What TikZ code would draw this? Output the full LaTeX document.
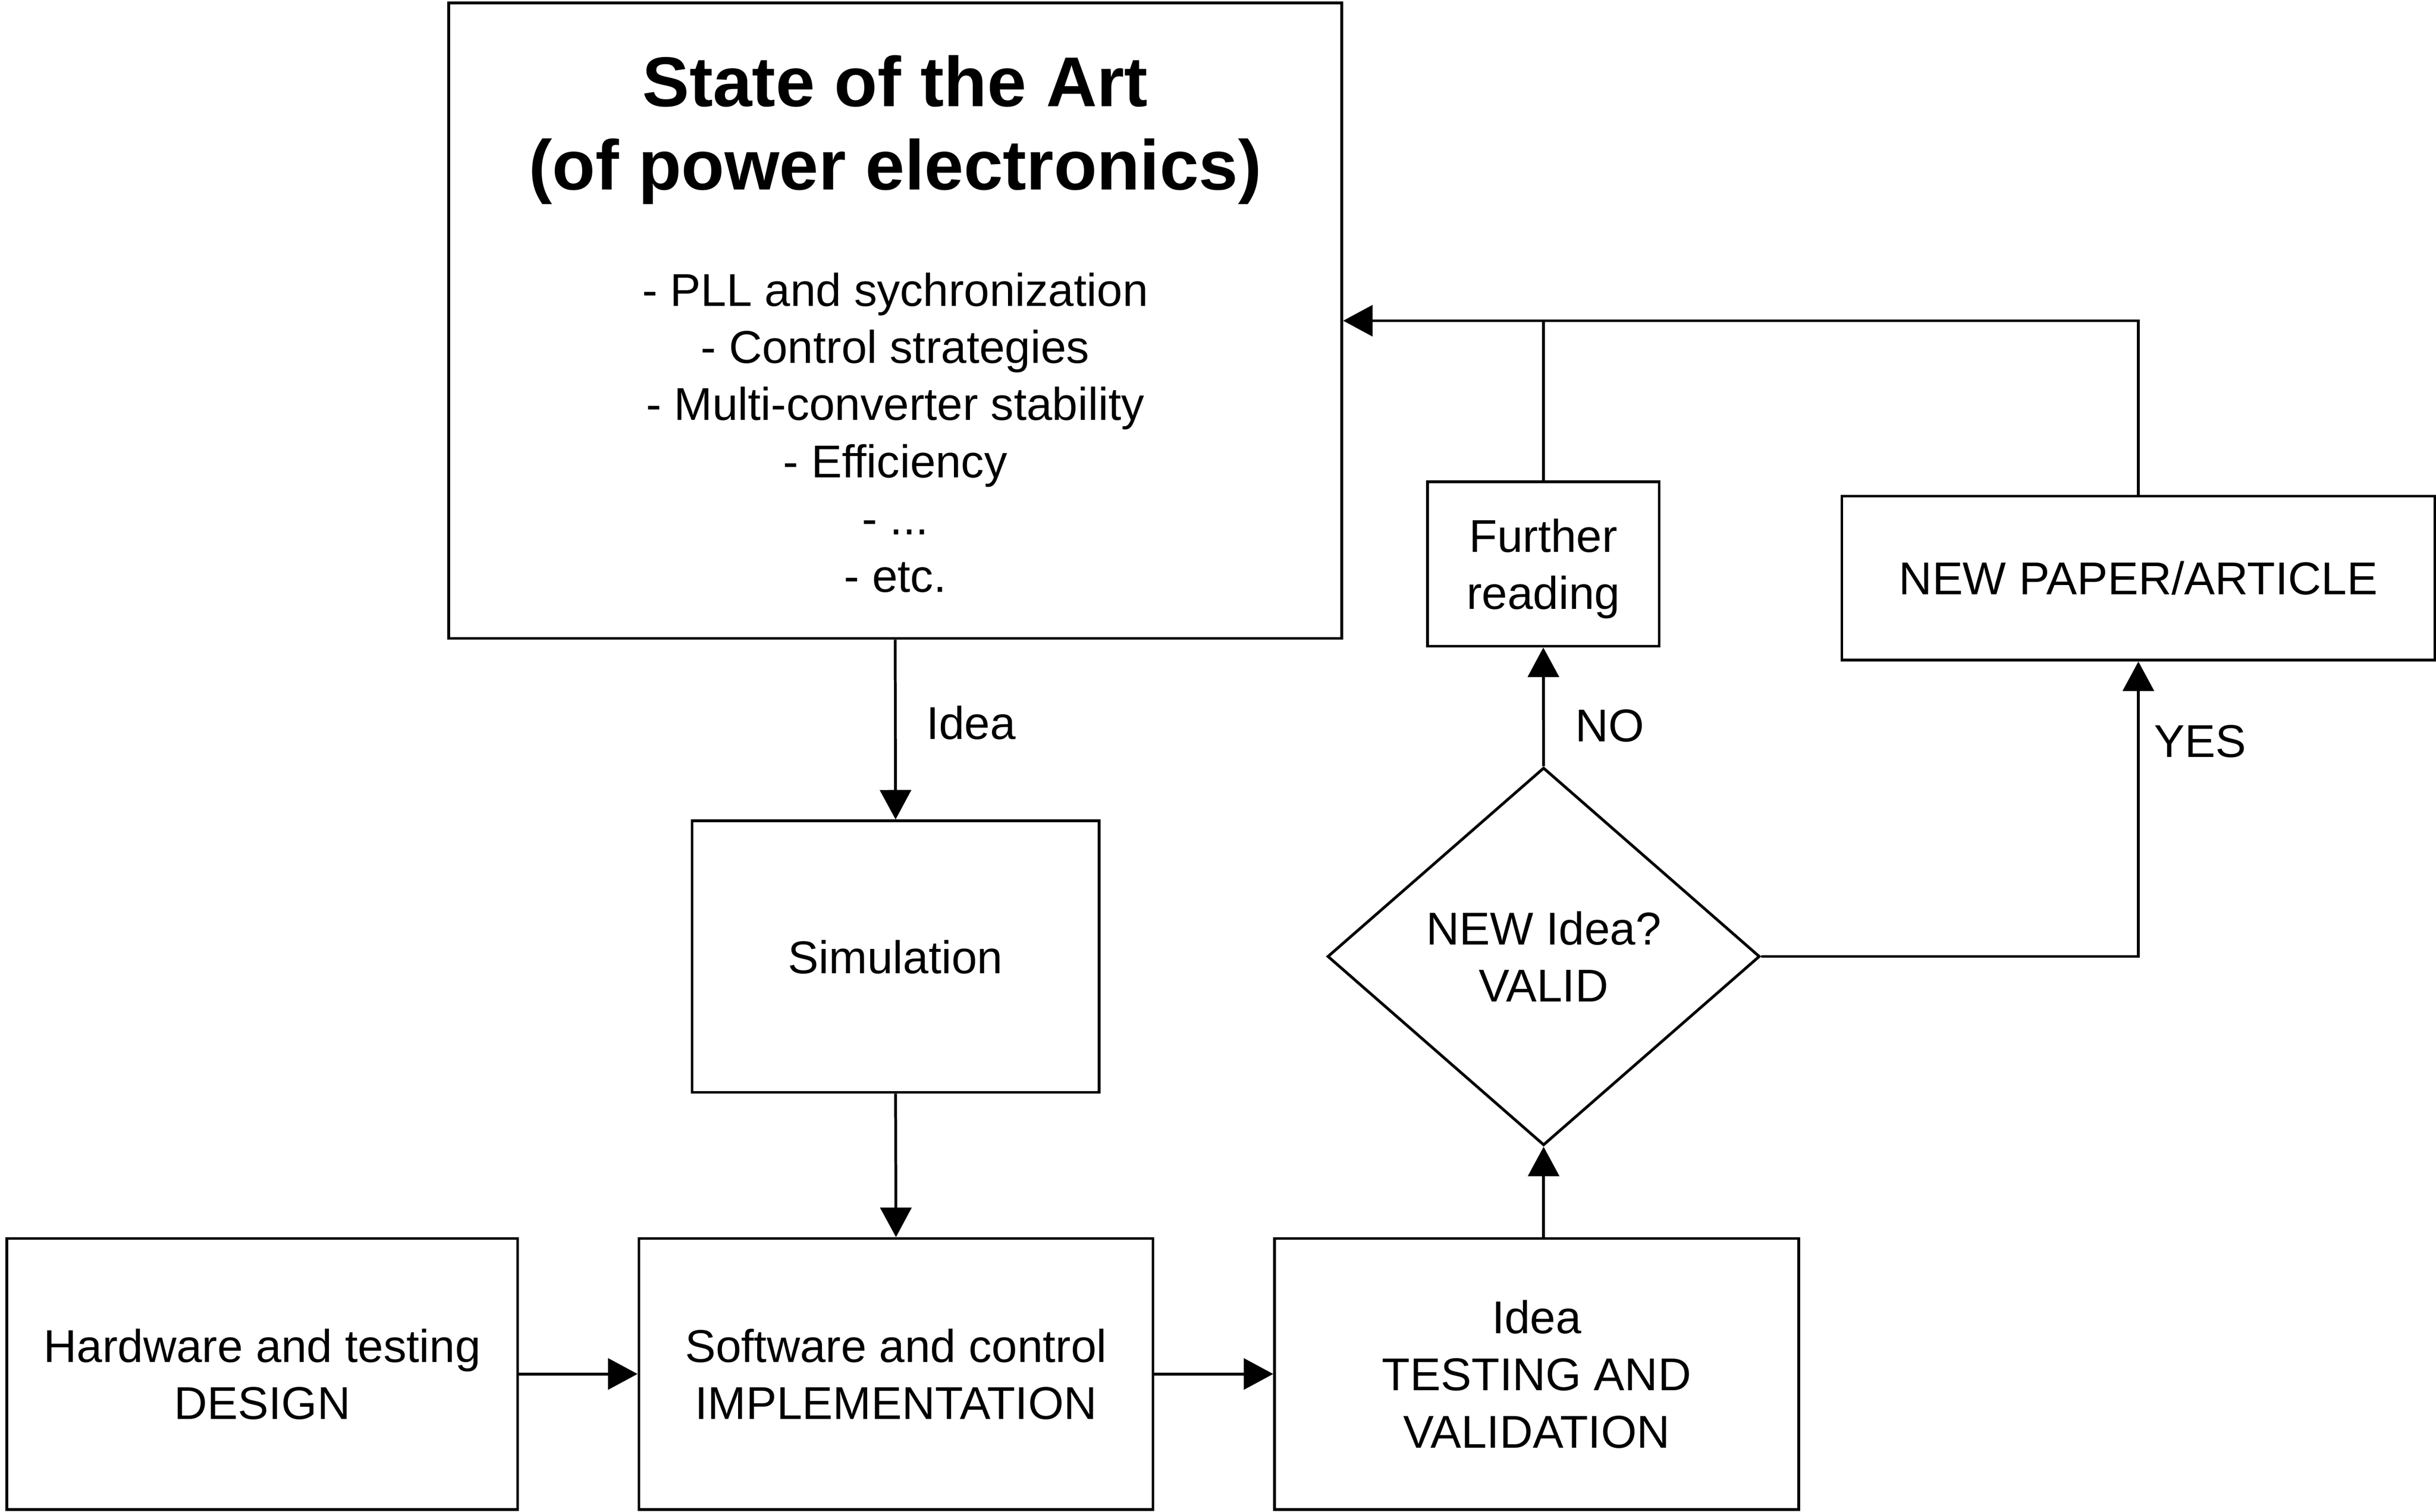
\documentclass[tikz,border=0pt]{standalone}
\usepackage{fontspec}
\setmainfont{Liberation Sans}
\usetikzlibrary{arrows.meta,shapes.geometric}

\tikzset{
    block/.style={draw, line width=0.9pt, inner sep=0pt, align=center, text depth=0pt},
    decision/.style={draw, diamond, line width=0.9pt, inner sep=0pt, align=center, text depth=0pt},
    flow/.style={line width=0.9pt, -{Triangle[length=9.5pt,width=10pt]}},
    edgelabel/.style={inner sep=0pt, anchor=west, text depth=0pt},
}

\begin{document}
\begin{tikzpicture}[x=0.5pt, y=-0.5pt, font=\fontsize{14.8}{18.41}\selectfont]
        \useasboundingbox (0,0) rectangle (1568.1,973.3);
        %% state of the art
        \node[block, minimum width=574.9*0.5pt, minimum height=409*0.5pt] (art) at (576.25,206.5) {};
        \node[align=center, text depth=0pt, font=\fontsize{22.7}{26.7}\selectfont\bfseries] (arttitle) at (576.25,78.9)
            {State of the Art\\(of power electronics)};
        \node[align=center, text depth=0pt] (artlist) at (576.25,278.3)
            {- PLL and sychronization\\- Control strategies\\- Multi-converter stability\\- Efficiency\\- ...\\- etc.};
        %% work boxes
        \node[block, minimum width=262*0.5pt, minimum height=174.8*0.5pt] (sim) at (576.5,615.9) {Simulation};
        \node[block, minimum width=328.7*0.5pt, minimum height=174.4*0.5pt] (hw) at (168.85,884.6) {Hardware and testing\\DESIGN};
        \node[block, minimum width=330.9*0.5pt, minimum height=174.4*0.5pt] (sw) at (576.75,884.6) {Software and control\\IMPLEMENTATION};
        \node[block, minimum width=337.3*0.5pt, minimum height=174.4*0.5pt] (test) at (989.15,884.6) {Idea\\TESTING AND\\VALIDATION};
        %% decision and outcomes
        \node[decision, minimum width=278.3*0.5pt, minimum height=243.2*0.5pt] (valid) at (993.65,615.8) {NEW Idea?\\VALID};
        \node[block, minimum width=149.1*0.5pt, minimum height=105.8*0.5pt] (further) at (993.45,363.1) {Further\\reading};
        \node[block, minimum width=381.8*0.5pt, minimum height=105.6*0.5pt] (paper) at (1376.5,372.2) {NEW PAPER/ARTICLE};
        %% connectors
        \draw[flow] (art.south) -- node[edgelabel, pos=0.46, xshift=9.5pt] (idealbl) {Idea} (sim.north);
        \draw[flow] (sim.south) -- (sw.north);
        \draw[flow] (hw.east) -- (sw.west);
        \draw[flow] (sw.east) -- (test.west);
        \draw[flow] (valid.south |- test.north) -- (valid.south);
        \draw[flow] (valid.north) -- node[edgelabel, pos=0.344, xshift=9.85pt] (nolbl) {NO} (further.south);
        \draw[flow] (valid.east) -| node[edgelabel, pos=0.865, xshift=4.6pt] (yeslbl) {YES} (paper.south);
        %% feedback
        \draw[flow] (further.north) |- (art.east);
        \draw[line width=0.9pt] (paper.north) |- (further.north |- art.east);
    \end{tikzpicture}
\end{document}
